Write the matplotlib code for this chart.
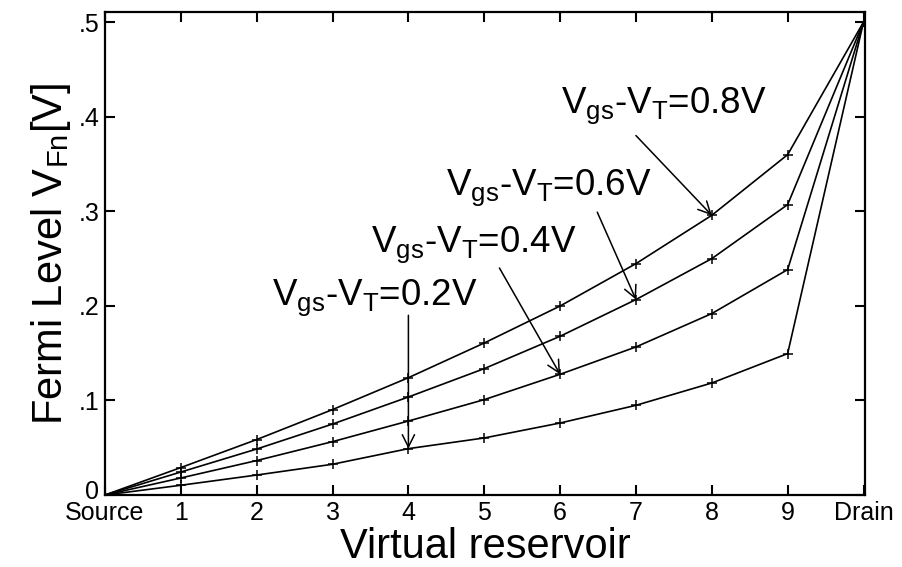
import matplotlib
matplotlib.use('Agg')
import matplotlib.pyplot as plt
import matplotlib.transforms as mtransforms

plt.rcParams['font.family'] = ['Liberation Sans', 'DejaVu Sans']
plt.rcParams['mathtext.fontset'] = 'custom'
plt.rcParams['mathtext.rm'] = 'Liberation Sans'
plt.rcParams['mathtext.it'] = 'Liberation Sans'

# positions along the channel: Source=0, reservoirs 1..9, Drain=10
pos = list(range(0, 11))
xlabels = ['Source', '1', '2', '3', '4', '5', '6', '7', '8', '9', 'Drain']

v08 = [0, 0.029, 0.0586, 0.0903, 0.124, 0.1607, 0.1998, 0.2446, 0.2957, 0.3598, 0.5]
v06 = [0, 0.0243, 0.0486, 0.075, 0.1036, 0.1336, 0.1678, 0.2066, 0.2499, 0.307, 0.5]
v04 = [0, 0.018, 0.0364, 0.0564, 0.0782, 0.1008, 0.1276, 0.1565, 0.1918, 0.2383, 0.5]
v02 = [0, 0.0103, 0.0211, 0.0325, 0.049, 0.0603, 0.0761, 0.0948, 0.1184, 0.1495, 0.5]

yticks = [0, 0.1, 0.2, 0.3, 0.4, 0.5]
ylabels = ['0', '.1', '.2', '.3', '.4', '.5']

fig = plt.figure(figsize=(9.02, 5.67), dpi=100)
ax = fig.add_axes([0.1164, 0.127, 0.8426, 0.8518])

for v in [v08, v06, v04, v02]:
    ax.plot(pos, v, color='black', lw=1.2, marker='+', ms=7, mew=1.1)

ax.set_xlim(0, 10.02)
ax.set_ylim(0, 0.5106)
ax.set_xticks(pos)
ax.set_xticklabels(xlabels)
ax.set_yticks(yticks)
ax.set_yticklabels(ylabels)
ax.tick_params(direction='in', length=7, width=1.5, top=True, right=True,
               labelsize=18, pad=4)
for s in ax.spines.values():
    s.set_linewidth(1.6)

# lift the "0" a little so it sits just above "Source"
zero = ax.get_yticklabels()[0]
zero.set_transform(zero.get_transform() +
                   mtransforms.ScaledTranslation(0, 4 / 72, fig.dpi_scale_trans))

ax.set_xlabel('Virtual reservoir', fontsize=30, labelpad=2)
ax.set_ylabel('Fermi Level V$_{\\mathrm{Fn}}$[V]', fontsize=30, labelpad=4)

# annotations: (label, text x, text y, arrow start, arrow end)
notes = [
    ('0.8V', 6.01, 0.4035, (7.00, 0.380), (8, 0.2957)),
    ('0.6V', 4.50, 0.3168, (6.49, 0.299), (7, 0.2066)),
    ('0.4V', 3.51, 0.2566, (5.20, 0.240), (6, 0.1276)),
    ('0.2V', 2.20, 0.2005, (4.00, 0.190), (4, 0.049)),
]
for lab, tx, ty, a0, a1 in notes:
    ax.text(tx, ty, 'V$_{\\mathrm{gs}}$-V$_{\\mathrm{T}}$=' + lab, fontsize=26.5,
            ha='left', va='baseline')
    ax.annotate('', xy=a1, xytext=a0,
                arrowprops=dict(arrowstyle='->', color='black', lw=1.1,
                                mutation_scale=22, shrinkA=0, shrinkB=0))

fig.savefig('out.png', dpi=100)
